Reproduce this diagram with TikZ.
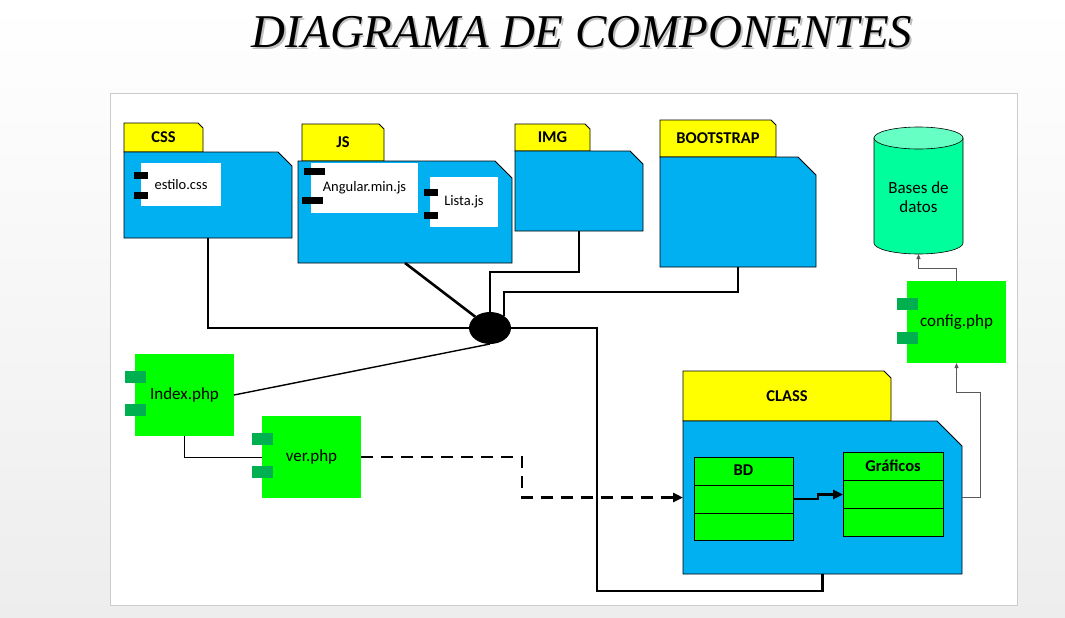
\documentclass[tikz,border=0pt]{standalone}
\usepackage{fontspec}
\setmainfont{Carlito}
\newfontfamily\titulofont{Liberation Serif}
\usetikzlibrary{shapes.geometric, shapes.multipart, arrows.meta, backgrounds}

\definecolor{azul}{HTML}{00B0F0}
\definecolor{amarillo}{HTML}{FFFF00}
\definecolor{verde}{HTML}{00FF00}
\definecolor{verdeosc}{HTML}{00B050}
\definecolor{menta}{HTML}{00FF9C}
\definecolor{mentaclaro}{HTML}{66FFC4}

% carpeta con la esquina superior derecha cortada
\newcommand{\chaflan}[3]{\path[#3] (#1.south west) -- (#1.north west) -- ([xshift=-#2]#1.north east) -- ([yshift=-#2]#1.north east) -- (#1.south east) -- cycle;}
% alto de cada parte de una clase
\newcommand{\alto}{\rule[-9pt]{0pt}{27pt}}

\begin{document}
\begin{tikzpicture}[x=1pt, y=-1pt, font=\fontsize{17}{19.5}\selectfont,
	every node/.style={inner sep=0pt, outer sep=0pt},
	carpeta/.style={draw=black, line width=0.8pt, fill=amarillo},
	pestana/.style={font=\fontsize{16.5}{19}\selectfont\bfseries},
	interno/.style={fill=white, font=\fontsize{14.5}{17}\selectfont},
	pnegro/.style={fill=black, minimum height=7pt, minimum width=#1},
	componente/.style={fill=verde, minimum width=99pt, minimum height=82pt},
	pverde/.style={fill=verdeosc, minimum width=21pt, minimum height=12pt},
	clase/.style={draw=black, line width=0.8pt, fill=verde, rectangle split, rectangle split parts=3, font=\fontsize{16.5}{19}\selectfont\bfseries},
	grueso/.style={line width=2.6pt, >={Triangle[length=10pt, width=9pt]}},
	gris/.style={line width=0.8pt, draw=black!65, >={Triangle[length=5pt, width=4pt]}}]
	
	\useasboundingbox (0,0) rectangle (1065,618);
	
	% Titulo
	\node[text=black!25, font=\titulofont\itshape\fontsize{47}{50}\selectfont, anchor=base] (titulo sombra) at (583.5,49.5) {DIAGRAMA DE COMPONENTES};
	\node[font=\titulofont\itshape\fontsize{47}{50}\selectfont, anchor=base] (titulo) at (582,48) {DIAGRAMA DE COMPONENTES};
	
	% CSS
	\node[pestana, minimum width=79pt, minimum height=29pt] (css tab) at (163.5,137.5) {CSS};
	\node[minimum width=168pt, minimum height=86pt] (css) at (208,195) {};
	\node[interno, minimum width=80pt, minimum height=43pt] (estilo) at (181,184.5) {estilo.css};
	\node[pnegro=14pt] (estilo p1) at (141,175) {};
	\node[pnegro=14pt] (estilo p2) at (141,195.5) {};
	
	% JS
	\node[pestana, minimum width=82pt, minimum height=37pt] (js tab) at (343,142.5) {JS};
	\node[minimum width=214pt, minimum height=102pt] (js) at (405,212) {};
	\node[interno, minimum width=107pt, minimum height=50pt] (angular) at (364.5,188) {Angular.min.js};
	\node[pnegro=21pt] (angular p1) at (314,171) {};
	\node[pnegro=21pt] (angular p2) at (312.5,200.5) {};
	\node[interno, minimum width=68pt, minimum height=50pt] (lista) at (464,202) {Lista.js};
	\node[pnegro=14pt] (lista p1) at (431,192) {};
	\node[pnegro=14pt] (lista p2) at (431,215.5) {};
	
	% IMG
	\node[pestana, minimum width=75pt, minimum height=27pt] (img tab) at (552.5,137.5) {IMG};
	\node[minimum width=128pt, minimum height=80pt] (img) at (579,191) {};
	
	% BOOTSTRAP
	\node[pestana, minimum width=116pt, minimum height=37pt] (boot tab) at (718,138.5) {BOOTSTRAP};
	\node[minimum width=156pt, minimum height=110pt] (boot) at (738,212) {};
	
	% Base de datos y config
	\node[minimum width=89pt, minimum height=127pt] (bd datos) at (918.5,190.5) {};
	\node[align=center] (bd datos texto) at (918.5,197) {Bases de\\datos};
	\node[componente] (config) at (956.5,322) {config.php};
	\node[pverde] (config p1) at ([yshift=18pt]config.west) {};
	\node[pverde] (config p2) at ([yshift=-16pt]config.west) {};
	
	% Union
	\node[ellipse, fill=black, minimum width=42pt, minimum height=32pt] (union) at (490,328) {};
	
	% Index y ver
	\node[componente] (index) at (184.5,395) {Index.php};
	\node[pverde] (index p1) at ([yshift=18pt]index.west) {};
	\node[pverde] (index p2) at ([yshift=-15pt]index.west) {};
	\node[componente] (ver) at (311.5,457) {ver.php};
	\node[pverde] (ver p1) at ([yshift=18pt]ver.west) {};
	\node[pverde] (ver p2) at ([yshift=-15pt]ver.west) {};
	
	% CLASS
	\node[pestana, minimum width=208pt, minimum height=50pt] (clase tab) at (787,396) {CLASS};
	\node[minimum width=279pt, minimum height=153pt] (clase) at (822.5,497.5) {};
	\node[clase, minimum width=99pt] (bd) at (743.5,499) {\alto BD\nodepart{two}\alto\nodepart{three}\alto};
	\node[clase, minimum width=100pt] (graficos) at (893,494.5) {\alto Gráficos\nodepart{two}\alto\nodepart{three}\alto};
	
	% Fondos de las carpetas y cilindro
	\begin{scope}[on background layer]
		\shade[top color=white, bottom color=black!7] (0,0) rectangle (1065,618);
		\draw[black!20, fill=white] (110,93) rectangle (1017,605);
		\chaflan{css tab}{5pt}{carpeta}
		\chaflan{css}{14pt}{carpeta, fill=azul}
		\chaflan{js tab}{5pt}{carpeta}
		\chaflan{js}{17pt}{carpeta, fill=azul}
		\chaflan{img tab}{5pt}{carpeta}
		\chaflan{img}{13pt}{carpeta, fill=azul}
		\chaflan{boot tab}{5pt}{carpeta}
		\chaflan{boot}{18pt}{carpeta, fill=azul}
		\chaflan{clase tab}{7pt}{carpeta}
		\chaflan{clase}{25pt}{carpeta, fill=azul}
		\filldraw[fill=menta, line width=0.6pt] ([yshift=-11pt]bd datos.north west) -- ([yshift=11pt]bd datos.south west) arc[start angle=180, end angle=0, x radius=44.5, y radius=11] -- ([yshift=-11pt]bd datos.north east) -- cycle;
		\filldraw[fill=mentaclaro, line width=0.6pt] ([yshift=-11pt]bd datos.north) ellipse[x radius=44.5, y radius=11];
	\end{scope}
	
	% Conexiones
	\coordinate (codo) at (597,591);
	\draw[grueso] (css.south) |- (union.west);
	\draw[grueso] (js.south) -- (union);
	\draw[grueso] (img.south) -- ++(0,41) -| (union.north);
	\draw[grueso] (boot.south) -- ++(0,25) -| (union.41);
	\draw[grueso] (union.east) -| (codo) -| (clase.south);
	\draw[line width=1.4pt] (index.east) -- (union.south);
	\draw[line width=0.8pt] (index.south) |- (ver.west);
	\draw[grueso, dash pattern=on 12pt off 8pt, ->] (ver.east) -- ++(161,0) |- (clase.west);
	\draw[grueso, ->] (bd.east) -- ++(25,0) |- (graficos.west);
	\draw[gris, ->] (clase.east) -- ++(18,0) |- ([yshift=-29pt]config.south) -- (config.south);
	\draw[gris, ->] (config.north) -- ++(0,-13) -| (bd datos.south);
	
\end{tikzpicture}
\end{document}
